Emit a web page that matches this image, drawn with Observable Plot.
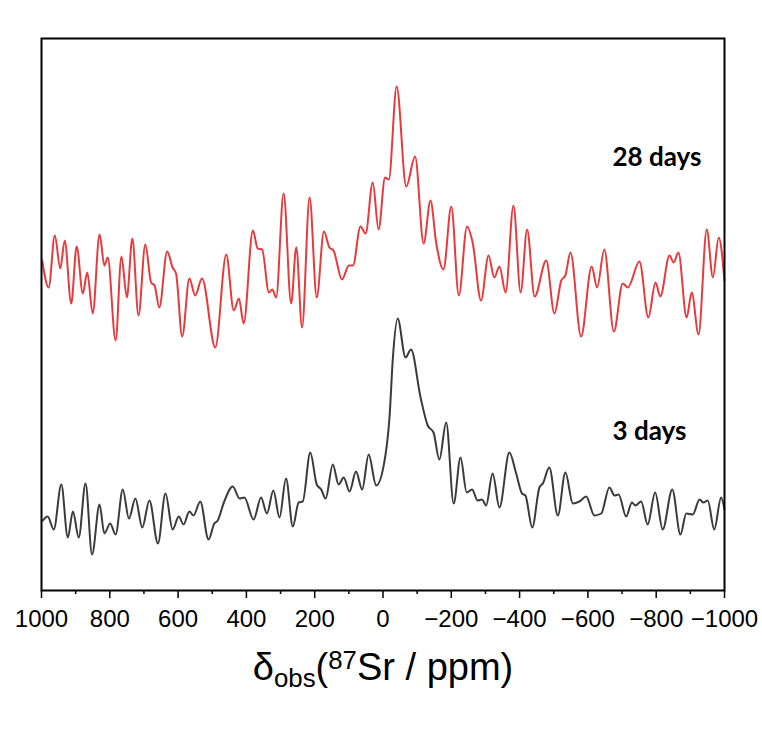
<!DOCTYPE html>
<html><head><meta charset="utf-8">
<script src="https://cdn.jsdelivr.net/npm/d3@7"></script>
<script src="https://cdn.jsdelivr.net/npm/@observablehq/plot@0.6"></script>
<style>
body{margin:0;background:#fff;}
#chart{width:762px;}
#xtitle{font-family:"Liberation Sans",Arial,sans-serif;font-size:38px;text-align:center;width:762px;padding-left:4px;box-sizing:border-box;line-height:1;margin-top:16px;color:#000;}
#xtitle sub{font-size:0.68em;vertical-align:-0.28em;}
#xtitle sup{font-size:0.68em;vertical-align:0.42em;}
</style></head><body>
<div id="chart"></div>
<div id="xtitle">δ<sub>obs</sub>(<sup>87</sup>Sr / ppm)</div>
<script>
// 28 days spectrum: chemical shift (ppm) and intensity (a.u.)
const shift28 = [998,979,961,945,932,913,897,879,866,850,830,816,806,783,766,750,734,716,696,679,669,655,632,616,606,588,567,550,530,491,459,437,422,408,381,367,354,334,324,313,291,269,254,237,215,194,173,157,145,120,100,88,66,51,30,13,-6,-17,-40,-68,-94,-119,-139,-156,-177,-200,-222,-246,-263,-287,-309,-326,-341,-359,-382,-403,-422,-444,-478,-502,-522,-534,-549,-580,-611,-627,-648,-676,-702,-717,-751,-777,-798,-812,-839,-851,-865,-889,-904,-924,-948,-966,-983,-1000];
const int28 = [330,303,355,322,350,287,344,297,318,277,356,325,333,250,334,293,352,275,346,308,305,283,339,323,317,254,312,295,312,243,336,280,292,267,360,342,341,298,301,293,397,287,343,263,393,293,359,343,340,311,325,325,364,357,408,361,413,411,504,404,434,347,390,347,321,384,295,364,347,290,335,313,324,298,385,298,361,294,330,277,310,315,338,254,324,303,341,259,307,303,329,273,308,294,335,328,338,273,298,256,361,313,353,310];
// 3 days spectrum
const shift3 = [996,982,964,942,923,908,891,871,852,830,816,799,783,762,744,725,705,684,659,637,616,598,584,567,555,535,511,494,484,466,440,420,406,379,357,340,321,303,284,264,247,235,213,194,181,168,147,130,115,98,79,61,42,20,-7,-19,-29,-43,-66,-82,-110,-131,-148,-165,-185,-207,-227,-245,-261,-277,-290,-302,-321,-341,-370,-390,-407,-417,-437,-458,-468,-487,-512,-534,-556,-575,-595,-619,-639,-663,-678,-690,-712,-729,-739,-756,-775,-797,-819,-847,-871,-888,-907,-927,-938,-951,-970,-990,-1000];
const int3 = [70,74,61,106,53,79,53,107,36,86,57,67,56,101,72,92,63,90,47,97,61,74,66,79,75,89,51,67,70,88,104,92,93,71,93,77,100,73,112,64,88,89,138,106,101,92,126,106,113,99,119,101,136,105,135,173,233,272,233,241,193,165,158,131,168,87,133,98,101,90,91,85,117,83,138,117,97,95,63,103,107,123,75,118,87,89,94,75,77,103,95,96,74,88,85,89,66,98,61,101,56,77,76,91,88,90,61,93,81];
// sample labels
const sampleNames = ["28 days", "3 days"];
const labelShift = [-672, -672];
const labelInt = [433, 159];
// x-axis ticks
const majorTicks = [1000, 800, 600, 400, 200, 0, -200, -400, -600, -800, -1000];
const minorTicks = [900, 700, 500, 300, 100, -100, -300, -500, -700, -900];

const d28 = shift28.map((s, i) => ({shift: s, intensity: int28[i]}));
const d3d = shift3.map((s, i) => ({shift: s, intensity: int3[i]}));
const labels = sampleNames.map((t, i) => ({text: t, shift: labelShift[i], intensity: labelInt[i]}));

const chart = Plot.plot({
  width: 762,
  height: 632,
  marginLeft: 41,
  marginRight: 38,
  marginTop: 38,
  marginBottom: 42,
  style: {background: "#fff", fontFamily: "'Liberation Sans', Arial, sans-serif"},
  x: {domain: [1000, -1000], label: null},
  y: {domain: [0, 552], axis: null},
  marks: [
    Plot.axisX(minorTicks, {tickSize: 4, tickFormat: () => "", strokeWidth: 1.5, label: null}),
    Plot.axisX(majorTicks, {tickSize: 8, tickPadding: 11, fontSize: 24, strokeWidth: 1.5, label: null, tickFormat: d3.format("d"), color: "#000"}),
    Plot.line(d28, {x: "shift", y: "intensity", stroke: "#e8393c", strokeWidth: 2, curve: "monotone-x"}),
    Plot.line(d3d, {x: "shift", y: "intensity", stroke: "#3a3a3a", strokeWidth: 2, curve: "monotone-x"}),
    Plot.text(labels, {x: "shift", y: "intensity", text: "text", textAnchor: "start", lineAnchor: "middle", fontSize: 26, fontWeight: "bold", fontFamily: "Lato, 'Open Sans', sans-serif", fill: "#000"}),
    Plot.frame({stroke: "#000", strokeWidth: 2})
  ]
});
document.getElementById("chart").appendChild(chart);
</script>
</body></html>
